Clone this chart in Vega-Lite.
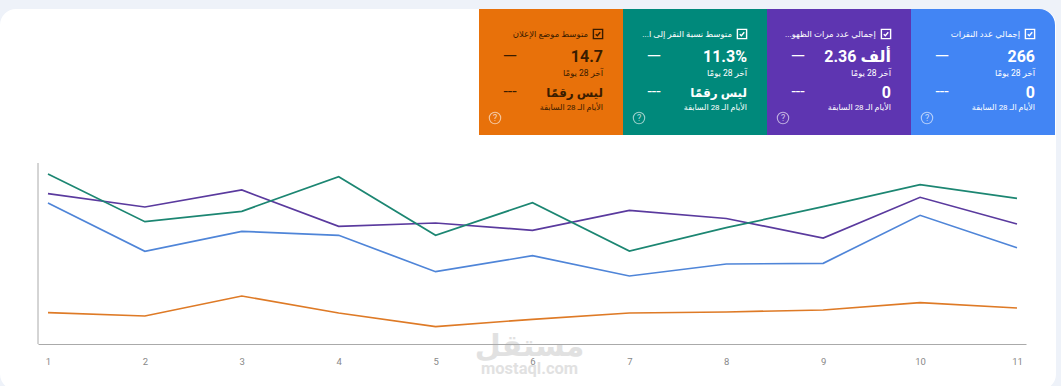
{
"$schema":"https://vega.github.io/schema/vega-lite/v6.json",
"width":988,"height":181,
"autosize":"none",
"padding":{"left":38,"top":163,"right":35,"bottom":42},
"background":"#eef2f9",
"view":{"stroke":null},
"config":{"view":{"stroke":null},"text":{"font":"Roboto, 'DejaVu Sans', sans-serif"}},
"datasets":{
"cards":[
{"metric":"position","title":"متوسط موضع الإعلان","current":"14.7","previous":"ليس رقمًا","ink":"#3a1c00"},
{"metric":"ctr","title":"متوسط نسبة النقر إلى ا...\u200f","current":"11.3%","previous":"ليس رقمًا","ink":"#ffffff"},
{"metric":"impressions","title":"إجمالي عدد مرات الظهو...\u200f","current":"2.36 ألف","previous":"0","ink":"#ffffff"},
{"metric":"clicks","title":"إجمالي عدد النقرات","current":"266","previous":"0","ink":"#ffffff"}
],
"series":[
{"day":1,"metric":"clicks","v":141},{"day":2,"metric":"clicks","v":92.7},{"day":3,"metric":"clicks","v":112.7},{"day":4,"metric":"clicks","v":108.7},{"day":5,"metric":"clicks","v":72.3},{"day":6,"metric":"clicks","v":88.3},{"day":7,"metric":"clicks","v":68},{"day":8,"metric":"clicks","v":80},{"day":9,"metric":"clicks","v":80.7},{"day":10,"metric":"clicks","v":128.7},{"day":11,"metric":"clicks","v":96.3},
{"day":1,"metric":"impressions","v":150.3},{"day":2,"metric":"impressions","v":137},{"day":3,"metric":"impressions","v":154},{"day":4,"metric":"impressions","v":117.7},{"day":5,"metric":"impressions","v":121},{"day":6,"metric":"impressions","v":113.7},{"day":7,"metric":"impressions","v":133.7},{"day":8,"metric":"impressions","v":125.5},{"day":9,"metric":"impressions","v":106},{"day":10,"metric":"impressions","v":146.7},{"day":11,"metric":"impressions","v":120},
{"day":1,"metric":"ctr","v":170},{"day":2,"metric":"ctr","v":122.3},{"day":3,"metric":"ctr","v":132.7},{"day":4,"metric":"ctr","v":167.3},{"day":5,"metric":"ctr","v":108.7},{"day":6,"metric":"ctr","v":141.3},{"day":7,"metric":"ctr","v":93},{"day":8,"metric":"ctr","v":116.3},{"day":9,"metric":"ctr","v":137.3},{"day":10,"metric":"ctr","v":159.3},{"day":11,"metric":"ctr","v":145.7},
{"day":1,"metric":"position","v":31.3},{"day":2,"metric":"position","v":28},{"day":3,"metric":"position","v":48},{"day":4,"metric":"position","v":31},{"day":5,"metric":"position","v":17.3},{"day":6,"metric":"position","v":24.7},{"day":7,"metric":"position","v":31},{"day":8,"metric":"position","v":32},{"day":9,"metric":"position","v":34},{"day":10,"metric":"position","v":41.3},{"day":11,"metric":"position","v":36}
]},
"resolve":{"scale":{"x":"independent","color":"independent"}},
"layer":[
{"data":{"values":[{"part":"panel"}]},
 "mark":{"type":"rect","fill":"#ffffff","cornerRadius":16},
 "encoding":{"x":{"datum":0.505,"type":"quantitative","scale":{"domain":[0.897,11.093]},"axis":null},"x2":{"datum":11.403},
 "y":{"datum":335,"type":"quantitative","scale":{"domain":[0,181]},"axis":null},"y2":{"datum":-46}}},
{"data":{"values":[{"part":"y axis line"}]},
 "mark":{"type":"rule","stroke":"#aaaaaa","strokeWidth":1},
 "encoding":{"x":{"datum":0.897,"type":"quantitative","scale":{"domain":[0.897,11.093]},"axis":null},
 "y":{"datum":0,"type":"quantitative","scale":{"domain":[0,181]},"axis":null},"y2":{"datum":181}}},
{"data":{"name":"cards"},"transform":[{"filter":"datum.metric!=='clicks'"}],
 "mark":{"type":"rect"},
 "encoding":{"x":{"field":"metric","type":"nominal","scale":{"type":"band","domain":["position","ctr","impressions"],"range":[441,873],"paddingInner":0,"paddingOuter":0},"axis":null},
 "y":{"datum":335,"type":"quantitative","scale":{"domain":[0,181]},"axis":null},"y2":{"datum":209},
 "fill":{"field":"metric","type":"nominal","legend":null,"scale":{"domain":["position","ctr","impressions"],"range":["#e8710a","#00897b","#5e35b1"]}}}},
{"data":{"name":"cards"},"transform":[{"filter":"datum.metric==='clicks'"}],
 "mark":{"type":"rect","fill":"#4285f4","cornerRadiusTopRight":16},
 "encoding":{"x":{"field":"metric","type":"nominal","scale":{"type":"band","domain":["clicks"],"range":[873,1017],"paddingInner":0,"paddingOuter":0},"axis":null},
 "y":{"datum":335,"type":"quantitative","scale":{"domain":[0,181]},"axis":null},"y2":{"datum":209}}},
{"data":{"name":"series"},
 "mark":{"type":"line","strokeWidth":1.7,"interpolate":"linear"},
 "encoding":{
 "x":{"field":"day","type":"quantitative","scale":{"domain":[0.897,11.093],"nice":false,"zero":false},
  "axis":{"values":[1,2,3,4,5,6,7,8,9,10,11],"format":"d","title":null,"grid":false,"ticks":false,"domainColor":"#aaaaaa","domainWidth":1,"labelColor":"#888888","labelFontSize":9.5,"labelFont":"Roboto","labelPadding":12,"labelAngle":0,"zindex":1}},
 "y":{"field":"v","type":"quantitative","scale":{"domain":[0,181],"nice":false,"zero":false},"axis":null},
 "detail":{"field":"metric"},
 "color":{"field":"metric","type":"nominal","legend":null,"scale":{"domain":["clicks","impressions","ctr","position"],"range":["#4f85d8","#5a3a9e","#1c8672","#de7a26"]}}}},
{"data":{"name":"cards"},
 "mark":{"type":"text","align":"right","baseline":"middle","fontSize":8.5,"xOffset":-35},
 "encoding":{"x":{"field":"metric","type":"nominal","bandPosition":1,"scale":{"type":"band","domain":["position","ctr","impressions","clicks"],"range":[441,1017],"paddingInner":0,"paddingOuter":0},"axis":null},
 "y":{"datum":310,"type":"quantitative","scale":{"domain":[0,181]},"axis":null},
 "text":{"field":"title"},"color":{"field":"ink","type":"nominal","scale":null}}},
{"data":{"name":"cards"},
 "mark":{"type":"point","shape":"square","filled":false,"size":85,"strokeWidth":1.4,"opacity":1,"xOffset":-25},
 "encoding":{"x":{"field":"metric","type":"nominal","bandPosition":1,"scale":{"type":"band","domain":["position","ctr","impressions","clicks"],"range":[441,1017],"paddingInner":0,"paddingOuter":0},"axis":null},
 "y":{"datum":310,"type":"quantitative","scale":{"domain":[0,181]},"axis":null},
 "stroke":{"field":"ink","type":"nominal","scale":null}}},
{"data":{"name":"cards"},
 "mark":{"type":"point","shape":"M-0.7,0.05L-0.2,0.55L0.7,-0.55","filled":false,"size":42,"strokeWidth":1.4,"opacity":1,"xOffset":-25},
 "encoding":{"x":{"field":"metric","type":"nominal","bandPosition":1,"scale":{"type":"band","domain":["position","ctr","impressions","clicks"],"range":[441,1017],"paddingInner":0,"paddingOuter":0},"axis":null},
 "y":{"datum":310,"type":"quantitative","scale":{"domain":[0,181]},"axis":null},
 "stroke":{"field":"ink","type":"nominal","scale":null}}},
{"data":{"name":"cards"},
 "mark":{"type":"text","align":"right","baseline":"middle","fontSize":16,"fontWeight":"bold","xOffset":-20},
 "encoding":{"x":{"field":"metric","type":"nominal","bandPosition":1,"scale":{"type":"band","domain":["position","ctr","impressions","clicks"],"range":[441,1017],"paddingInner":0,"paddingOuter":0},"axis":null},
 "y":{"datum":287,"type":"quantitative","scale":{"domain":[0,181]},"axis":null},
 "text":{"field":"current"},"color":{"field":"ink","type":"nominal","scale":null}}},
{"data":{"name":"cards"},
 "transform":[{"calculate":"'آخر 28 يومًا'","as":"label"}],
 "mark":{"type":"text","align":"right","baseline":"middle","fontSize":8.5,"xOffset":-20},
 "encoding":{"x":{"field":"metric","type":"nominal","bandPosition":1,"scale":{"type":"band","domain":["position","ctr","impressions","clicks"],"range":[441,1017],"paddingInner":0,"paddingOuter":0},"axis":null},
 "y":{"datum":271,"type":"quantitative","scale":{"domain":[0,181]},"axis":null},
 "text":{"field":"label"},"color":{"field":"ink","type":"nominal","scale":null}}},
{"data":{"name":"cards"},
 "mark":{"type":"text","align":"right","baseline":"middle","fontWeight":"bold","xOffset":-20},
 "encoding":{"x":{"field":"metric","type":"nominal","bandPosition":1,"scale":{"type":"band","domain":["position","ctr","impressions","clicks"],"range":[441,1017],"paddingInner":0,"paddingOuter":0},"axis":null},
 "y":{"datum":251,"type":"quantitative","scale":{"domain":[0,181]},"axis":null},
 "size":{"condition":{"test":"datum.previous==='0'","value":16},"value":12},
 "text":{"field":"previous"},"color":{"field":"ink","type":"nominal","scale":null}}},
{"data":{"name":"cards"},
 "transform":[{"calculate":"'الأيام الـ 28 السابقة'","as":"label"}],
 "mark":{"type":"text","align":"right","baseline":"middle","fontSize":8,"xOffset":-20},
 "encoding":{"x":{"field":"metric","type":"nominal","bandPosition":1,"scale":{"type":"band","domain":["position","ctr","impressions","clicks"],"range":[441,1017],"paddingInner":0,"paddingOuter":0},"axis":null},
 "y":{"datum":236,"type":"quantitative","scale":{"domain":[0,181]},"axis":null},
 "text":{"field":"label"},"color":{"field":"ink","type":"nominal","scale":null}}},
{"data":{"name":"cards"},
 "transform":[{"calculate":"'—'","as":"label"}],
 "mark":{"type":"text","align":"center","baseline":"middle","fontSize":19,"xOffset":31},
 "encoding":{"x":{"field":"metric","type":"nominal","bandPosition":0,"scale":{"type":"band","domain":["position","ctr","impressions","clicks"],"range":[441,1017],"paddingInner":0,"paddingOuter":0},"axis":null},
 "y":{"datum":288,"type":"quantitative","scale":{"domain":[0,181]},"axis":null},
 "text":{"field":"label"},"color":{"field":"ink","type":"nominal","scale":null}}},
{"data":{"name":"cards"},
 "transform":[{"calculate":"'---'","as":"label"}],
 "mark":{"type":"text","align":"center","baseline":"middle","fontSize":16,"xOffset":31},
 "encoding":{"x":{"field":"metric","type":"nominal","bandPosition":0,"scale":{"type":"band","domain":["position","ctr","impressions","clicks"],"range":[441,1017],"paddingInner":0,"paddingOuter":0},"axis":null},
 "y":{"datum":252,"type":"quantitative","scale":{"domain":[0,181]},"axis":null},
 "text":{"field":"label"},"color":{"field":"ink","type":"nominal","scale":null}}},
{"data":{"name":"cards"},
 "mark":{"type":"point","shape":"circle","filled":false,"size":130,"strokeWidth":1.1,"opacity":0.6,"xOffset":16},
 "encoding":{"x":{"field":"metric","type":"nominal","bandPosition":0,"scale":{"type":"band","domain":["position","ctr","impressions","clicks"],"range":[441,1017],"paddingInner":0,"paddingOuter":0},"axis":null},
 "y":{"datum":226,"type":"quantitative","scale":{"domain":[0,181]},"axis":null},
 "stroke":{"value":"#ffffff"}}},
{"data":{"name":"cards"},
 "transform":[{"calculate":"'?'","as":"label"}],
 "mark":{"type":"text","align":"center","baseline":"middle","fontSize":9,"opacity":0.7,"xOffset":16},
 "encoding":{"x":{"field":"metric","type":"nominal","bandPosition":0,"scale":{"type":"band","domain":["position","ctr","impressions","clicks"],"range":[441,1017],"paddingInner":0,"paddingOuter":0},"axis":null},
 "y":{"datum":226,"type":"quantitative","scale":{"domain":[0,181]},"axis":null},
 "text":{"field":"label"},"color":{"value":"#ffffff"}}},
{"data":{"values":[{"t":"مستقل"}]},
 "mark":{"type":"text","align":"center","baseline":"middle","fontSize":30,"fontWeight":"bold","font":"'DejaVu Sans'","color":"#d8d8d8","opacity":0.75},
 "encoding":{"x":{"datum":5.97,"type":"quantitative","scale":{"domain":[0.897,11.093]},"axis":null},
 "y":{"datum":-3,"type":"quantitative","scale":{"domain":[0,181]},"axis":null},
 "text":{"field":"t"}}},
{"data":{"values":[{"t":"mostaql.com"}]},
 "mark":{"type":"text","align":"center","baseline":"middle","fontSize":16.5,"fontWeight":"bold","font":"Roboto","color":"#d8d8d8","opacity":0.75},
 "encoding":{"x":{"datum":5.97,"type":"quantitative","scale":{"domain":[0.897,11.093]},"axis":null},
 "y":{"datum":-25,"type":"quantitative","scale":{"domain":[0,181]},"axis":null},
 "text":{"field":"t"}}}
]
}
